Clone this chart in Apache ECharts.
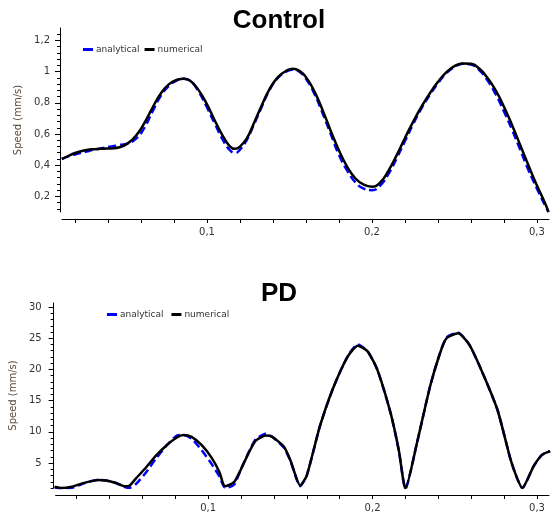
<!DOCTYPE html>
<html>
<head>
    <meta charset="utf-8">
    <title>Control / PD</title>
    <script src="https://cdn.jsdelivr.net/npm/echarts@6.0.0/dist/echarts.min.js"></script>
    <style>
        html, body { margin: 0; padding: 0; background: #fff; }
        #chart { width: 558px; height: 516px; }
    </style>
</head>
<body>
    <div id="chart"></div>
    <script>
        // Control: time (s) and speed (mm/s)
        var ctrlTime = [0.012, 0.017, 0.022, 0.027, 0.032, 0.037, 0.042, 0.047, 0.052, 0.057,
            0.062, 0.067, 0.072, 0.077, 0.082, 0.086, 0.090, 0.095, 0.100, 0.105,
            0.110, 0.114, 0.117, 0.120, 0.124, 0.128, 0.133, 0.138, 0.143, 0.148,
            0.152, 0.156, 0.160, 0.165, 0.170, 0.175, 0.180, 0.185, 0.190, 0.195,
            0.200, 0.205, 0.210, 0.215, 0.220, 0.225, 0.230, 0.235, 0.240, 0.245,
            0.250, 0.255, 0.260, 0.265, 0.270, 0.275, 0.280, 0.285, 0.290, 0.295,
            0.300, 0.305, 0.307];
        var ctrlNumerical = [0.44, 0.465, 0.485, 0.497, 0.503, 0.506, 0.508, 0.515, 0.54, 0.59,
            0.67, 0.77, 0.86, 0.92, 0.948, 0.955, 0.94, 0.88, 0.79, 0.68,
            0.58, 0.52, 0.505, 0.52, 0.57, 0.66, 0.78, 0.89, 0.965, 1.005,
            1.018, 1.005, 0.965, 0.875, 0.755, 0.62, 0.495, 0.39, 0.315, 0.275,
            0.262, 0.29, 0.365, 0.465, 0.575, 0.68, 0.775, 0.86, 0.935, 0.995,
            1.035, 1.053, 1.05, 1.02, 0.96, 0.88, 0.775, 0.655, 0.525, 0.395,
            0.27, 0.155, 0.10];
        var ctrlAnalytical = [0.44, 0.46, 0.475, 0.488, 0.50, 0.51, 0.52, 0.53, 0.54, 0.57,
            0.64, 0.745, 0.845, 0.91, 0.945, 0.955, 0.94, 0.87, 0.77, 0.66,
            0.555, 0.495, 0.478, 0.50, 0.56, 0.65, 0.77, 0.885, 0.96, 1.0,
            1.013, 1.0, 0.955, 0.86, 0.735, 0.60, 0.465, 0.365, 0.29, 0.25,
            0.24, 0.27, 0.345, 0.445, 0.555, 0.665, 0.765, 0.85, 0.925, 0.99,
            1.03, 1.05, 1.045, 1.01, 0.945, 0.855, 0.745, 0.625, 0.495, 0.365,
            0.25, 0.14, 0.10];

        // PD: time (s) and speed (mm/s)
        var pdTime = [0.0067, 0.011, 0.017, 0.023, 0.029, 0.033, 0.038, 0.044, 0.049, 0.052,
            0.056, 0.062, 0.068, 0.075, 0.081, 0.085, 0.090, 0.096, 0.102, 0.107,
            0.110, 0.112, 0.116, 0.120, 0.125, 0.129, 0.135, 0.139, 0.146, 0.150,
            0.156, 0.160, 0.168, 0.176, 0.185, 0.191, 0.197, 0.203, 0.211, 0.216,
            0.220, 0.227, 0.235, 0.241, 0.245, 0.252, 0.259, 0.267, 0.276, 0.284,
            0.288, 0.291, 0.298, 0.303, 0.308];
        var pdNumerical = [1.2, 1.0, 1.2, 1.7, 2.1, 2.3, 2.2, 1.8, 1.3, 1.35,
            2.5, 4.2, 6.1, 7.9, 9.1, 9.5, 9.2, 7.9, 5.9, 3.5,
            1.3, 1.4, 2.0, 4.0, 6.8, 8.6, 9.4, 9.2, 7.65, 5.5,
            1.4, 3.0, 10.9, 17.0, 22.1, 23.8, 22.9, 19.9, 13.0, 7.0,
            0.9, 8.2, 17.3, 22.6, 25.0, 25.8, 23.9, 19.4, 13.5, 5.5,
            2.5, 1.0, 4.5, 6.3, 6.9];
        var pdAnalytical = [1.1, 0.85, 1.0, 1.6, 2.1, 2.3, 2.2, 1.8, 1.2, 1.0,
            1.6, 3.4, 5.6, 7.9, 9.4, 9.5, 8.9, 7.1, 4.9, 2.8,
            1.1, 1.1, 1.6, 4.0, 6.9, 8.8, 9.7, 9.2, 7.5, 5.4,
            1.3, 3.0, 10.9, 17.0, 22.2, 24.0, 22.9, 19.9, 13.0, 7.0,
            0.9, 8.2, 17.3, 22.6, 25.1, 25.9, 23.9, 19.4, 13.5, 5.5,
            2.5, 1.0, 4.5, 6.3, 6.9];

        // tick positions
        var xMajor = [0.1, 0.2, 0.3];
        var xMinor = [0.02, 0.04, 0.06, 0.08, 0.1, 0.12, 0.14, 0.16, 0.18, 0.2,
            0.22, 0.24, 0.26, 0.28, 0.3];
        var ctrlYMajor = [0.2, 0.4, 0.6, 0.8, 1, 1.2];
        var ctrlYMinor = [0.12, 0.16, 0.24, 0.28, 0.32, 0.36, 0.44, 0.48, 0.52, 0.56,
            0.64, 0.68, 0.72, 0.76, 0.84, 0.88, 0.92, 0.96, 1.04, 1.08, 1.12, 1.16, 1.24];
        var pdYMajor = [5, 10, 15, 20, 25, 30];
        var pdYMinor = [1, 2, 3, 4, 6, 7, 8, 9, 11, 12, 13, 14, 16, 17, 18, 19,
            21, 22, 23, 24, 26, 27, 28, 29];

        function pairs(xs, ys) {
            return xs.map(function (x, i) { return [x, ys[i]]; });
        }
        function comma(v) {
            return String(v).replace('.', ',');
        }

        var labelFont = { fontFamily: 'DejaVu Sans', fontSize: 10, color: '#333' };

        function xAxisFor(grid, min, max) {
            return {
                gridIndex: grid, type: 'value', min: min, max: max, offset: 7,
                axisLine: { lineStyle: { color: '#000', width: 1 } },
                axisTick: { customValues: xMinor, length: 4, lineStyle: { color: '#000' } },
                axisLabel: Object.assign({ customValues: xMajor, margin: 8, formatter: comma }, labelFont),
                splitLine: { show: false }
            };
        }
        function yAxisFor(grid, min, max, major, offset, margin) {
            return {
                gridIndex: grid, type: 'value', position: 'left', min: min, max: max, offset: offset,
                name: 'Speed (mm/s)', nameLocation: 'middle', nameGap: margin + 20,
                nameTextStyle: { fontFamily: 'DejaVu Sans', fontSize: 10, color: '#5a4a3a' },
                axisLine: { show: true, lineStyle: { color: '#000', width: 1 } },
                axisTick: { customValues: major, length: 5, lineStyle: { color: '#000' } },
                axisLabel: Object.assign({ customValues: major, margin: margin, formatter: comma }, labelFont),
                splitLine: { show: false }
            };
        }
        function yMinorFor(grid, min, max, minor, offset) {
            return {
                gridIndex: grid, type: 'value', position: 'left', min: min, max: max, offset: offset,
                axisLine: { show: false },
                axisTick: { customValues: minor, length: 3, lineStyle: { color: '#000' } },
                axisLabel: { show: false },
                splitLine: { show: false }
            };
        }
        function lineSeries(name, x, y, data, dashed, smooth) {
            return {
                name: name, type: 'line', xAxisIndex: x, yAxisIndex: y,
                data: data, showSymbol: false, smooth: smooth,
                lineStyle: dashed
                    ? { color: '#0000ff', width: 2.5, type: [8, 4] }
                    : { color: '#000', width: 2.5 },
                itemStyle: { color: dashed ? '#0000ff' : '#000' }
            };
        }

        var chart = echarts.init(document.getElementById('chart'));
        var option = {
            animation: false,
            backgroundColor: '#fff',
            title: [
                { text: 'Control', left: 'center', top: 3,
                  textStyle: { fontFamily: 'Liberation Sans', fontWeight: 'bold', fontSize: 26, color: '#000' } },
                { text: 'PD', left: 'center', top: 276,
                  textStyle: { fontFamily: 'Liberation Sans', fontWeight: 'bold', fontSize: 26, color: '#000' } }
            ],
            legend: [
                { left: 83, top: 45, padding: 0, itemWidth: 10, itemHeight: 3, itemGap: 5, icon: 'rect',
                  textStyle: { fontFamily: 'DejaVu Sans', fontSize: 9, color: '#333', padding: [0, 0, 0, -2] },
                  data: ['analytical', 'numerical'] },
                { left: 107, top: 310, padding: 0, itemWidth: 10, itemHeight: 3, itemGap: 5, icon: 'rect',
                  textStyle: { fontFamily: 'DejaVu Sans', fontSize: 9, color: '#333', padding: [0, 0, 0, -2] },
                  data: ['analytical ', 'numerical '] }
            ],
            grid: [
                { left: 62, right: 9, top: 28, height: 184 },
                { left: 54, right: 9, top: 303, height: 185 }
            ],
            xAxis: [
                xAxisFor(0, 0.0121, 0.3073),
                xAxisFor(1, 0.0073, 0.3073)
            ],
            yAxis: [
                yAxisFor(0, 0.1, 1.28, ctrlYMajor, 2, 10),
                yMinorFor(0, 0.1, 1.28, ctrlYMinor, 2),
                yAxisFor(1, 1, 30.65, pdYMajor, 2, 12),
                yMinorFor(1, 1, 30.65, pdYMinor, 2)
            ],
            series: [
                lineSeries('analytical', 0, 0, pairs(ctrlTime, ctrlAnalytical), true, 0.5),
                lineSeries('numerical', 0, 0, pairs(ctrlTime, ctrlNumerical), false, 0.5),
                lineSeries('analytical ', 1, 2, pairs(pdTime, pdAnalytical), true, 0.2),
                lineSeries('numerical ', 1, 2, pairs(pdTime, pdNumerical), false, 0.2)
            ]
        };
        chart.setOption(option);
    </script>
</body>
</html>
